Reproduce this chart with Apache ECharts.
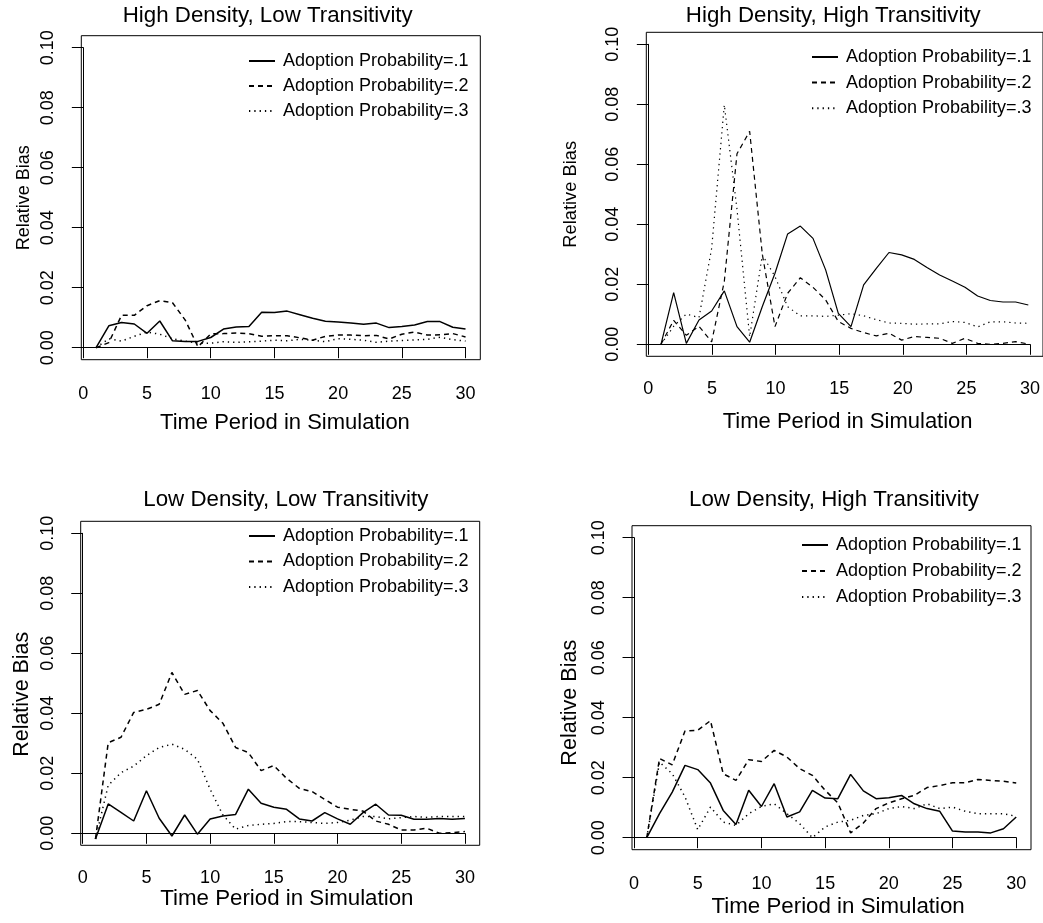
<!DOCTYPE html>
<html>
<head>
<meta charset="utf-8">
<script src="https://cdn.jsdelivr.net/npm/echarts@6/dist/echarts.min.js"></script>
<style>html,body{margin:0;padding:0;background:#fff;}#chart{width:1043px;height:923px;}</style>
</head>
<body>
<div id="chart"></div>
<script>
// ---------- data ----------
const periods = [1,2,3,4,5,6,7,8,9,10,11,12,13,14,15,16,17,18,19,20,21,22,23,24,25,26,27,28,29,30];
const seriesNames = ['Adoption Probability=.1','Adoption Probability=.2','Adoption Probability=.3'];
const panelTitles = ['High Density, Low Transitivity','High Density, High Transitivity','Low Density, Low Transitivity','Low Density, High Transitivity'];
const xAxisTitle = 'Time Period in Simulation';
const yAxisTitle = 'Relative Bias';

// High Density, Low Transitivity
const hdlt_p1 = [0.0000,0.0073,0.0084,0.0079,0.0048,0.0089,0.0023,0.0021,0.0021,0.0034,0.0062,0.0069,0.0071,0.0118,0.0117,0.0122,0.0110,0.0098,0.0088,0.0086,0.0082,0.0078,0.0082,0.0067,0.0071,0.0076,0.0087,0.0087,0.0068,0.0062];
const hdlt_p2 = [0.0000,0.0017,0.0108,0.0108,0.0140,0.0157,0.0150,0.0092,0.0003,0.0046,0.0047,0.0049,0.0047,0.0038,0.0040,0.0040,0.0033,0.0025,0.0038,0.0042,0.0042,0.0040,0.0041,0.0029,0.0045,0.0052,0.0042,0.0043,0.0047,0.0036];
const hdlt_p3 = [0.0000,0.0030,0.0022,0.0038,0.0052,0.0045,0.0030,0.0022,0.0015,0.0015,0.0020,0.0018,0.0020,0.0022,0.0025,0.0023,0.0028,0.0025,0.0020,0.0030,0.0028,0.0025,0.0018,0.0022,0.0024,0.0026,0.0028,0.0035,0.0027,0.0022];
// High Density, High Transitivity
const hdht_p1 = [0.0000,0.0172,0.0003,0.0081,0.0111,0.0178,0.0059,0.0007,0.0126,0.0237,0.0368,0.0394,0.0353,0.0248,0.0103,0.0059,0.0198,0.0253,0.0306,0.0298,0.0283,0.0256,0.0231,0.0211,0.0190,0.0161,0.0146,0.0141,0.0141,0.0131];
const hdht_p2 = [0.0000,0.0080,0.0030,0.0060,0.0008,0.0210,0.0635,0.0710,0.0300,0.0059,0.0170,0.0222,0.0190,0.0148,0.0076,0.0053,0.0039,0.0028,0.0037,0.0014,0.0026,0.0023,0.0020,0.0003,0.0020,0.0003,0.0000,0.0003,0.0009,0.0001];
const hdht_p3 = [0.0000,0.0060,0.0101,0.0089,0.0320,0.0798,0.0450,0.0025,0.0298,0.0226,0.0125,0.0095,0.0095,0.0093,0.0097,0.0102,0.0095,0.0082,0.0071,0.0070,0.0067,0.0068,0.0068,0.0076,0.0073,0.0058,0.0075,0.0075,0.0071,0.0070];
// Low Density, Low Transitivity
const ldlt_p1 = [-0.0019,0.0098,0.0070,0.0041,0.0142,0.0050,-0.0009,0.0061,-0.0003,0.0048,0.0058,0.0063,0.0147,0.0100,0.0087,0.0080,0.0048,0.0041,0.0069,0.0048,0.0030,0.0069,0.0097,0.0061,0.0060,0.0047,0.0047,0.0049,0.0047,0.0049];
const ldlt_p2 = [-0.0019,0.0302,0.0320,0.0403,0.0413,0.0430,0.0536,0.0463,0.0476,0.0409,0.0367,0.0286,0.0269,0.0209,0.0226,0.0183,0.0150,0.0139,0.0113,0.0087,0.0080,0.0074,0.0041,0.0030,0.0011,0.0011,0.0017,0.0000,0.0002,0.0006];
const ldlt_p3 = [-0.0019,0.0160,0.0202,0.0224,0.0259,0.0286,0.0297,0.0280,0.0247,0.0147,0.0061,0.0014,0.0026,0.0030,0.0033,0.0039,0.0039,0.0036,0.0033,0.0036,0.0044,0.0056,0.0056,0.0048,0.0052,0.0056,0.0053,0.0056,0.0056,0.0056];
// Low Density, High Transitivity
const ldht_p1 = [0.0000,0.0080,0.0152,0.0241,0.0227,0.0182,0.0091,0.0044,0.0158,0.0104,0.0180,0.0069,0.0086,0.0158,0.0132,0.0130,0.0211,0.0156,0.0130,0.0133,0.0141,0.0113,0.0097,0.0088,0.0022,0.0019,0.0019,0.0016,0.0030,0.0069];
const ldht_p2 = [0.0000,0.0264,0.0243,0.0356,0.0358,0.0390,0.0213,0.0191,0.0260,0.0254,0.0291,0.0269,0.0230,0.0208,0.0158,0.0116,0.0016,0.0049,0.0097,0.0116,0.0130,0.0141,0.0167,0.0174,0.0183,0.0183,0.0194,0.0191,0.0188,0.0182];
const ldht_p3 = [0.0000,0.0252,0.0213,0.0136,0.0027,0.0102,0.0052,0.0041,0.0080,0.0104,0.0113,0.0080,0.0047,0.0000,0.0036,0.0052,0.0058,0.0074,0.0080,0.0097,0.0104,0.0097,0.0113,0.0097,0.0102,0.0088,0.0080,0.0080,0.0080,0.0071];

const panelData = [
  [hdlt_p1, hdlt_p2, hdlt_p3],
  [hdht_p1, hdht_p2, hdht_p3],
  [ldlt_p1, ldlt_p2, ldlt_p3],
  [ldht_p1, ldht_p2, ldht_p3]
];

// axis ticks
const xTickMin = 0, xTickMax = 30, xTickStep = 5;
const yTickMin = 0, yTickMax = 0.1, yTickStep = 0.02;

// ---------- layout ----------
const FONT = '"Liberation Sans", Arial, Helvetica, sans-serif';
const BOX_W = 399, BOX_H = 324;
const layout = [
  {L: 81.3,  T: 35.7,  tx: 267.7, ty: 5,   xMargin: 25, xGap: 52,   xNameSize: 22,   xShift: 21, yGap: 48.5, yNameSize: 18,   yShift: 0,  lgL: 248, lgT: 52,  lgGap: 7,   lw: 1.5},
  {L: 646.3, T: 32.3,  tx: 833.3, ty: 5,   xMargin: 24, xGap: 54.5, xNameSize: 22,   xShift: 17, yGap: 66,   yNameSize: 18.3, yShift: 0,  lgL: 811, lgT: 48,  lgGap: 7.6, lw: 1.2},
  {L: 80.7,  T: 521.3, tx: 285.8, ty: 489, xMargin: 24, xGap: 42.5, xNameSize: 22.3, xShift: 26, yGap: 48.3, yNameSize: 21.4, yShift: 22, lgL: 248, lgT: 527, lgGap: 7.5, lw: 1.5},
  {L: 632,   T: 525.7, tx: 834,   ty: 489, xMargin: 25, xGap: 46,   xNameSize: 22.3, xShift: 26, yGap: 51.3, yNameSize: 21.6, yShift: 30, lgL: 801, lgT: 536, lgGap: 8,   lw: 1.5}
];
const dashTypes = ['solid', [5, 4], [1.3, 4]];

// R-style padded range (4% each side)
const xPad = (periods[periods.length-1] - periods[0]) * 0.04;
const xMin = periods[0] - xPad, xMax = periods[periods.length-1] + xPad;
const yPad = (yTickMax - yTickMin) * 0.04;
const yMin = yTickMin - yPad, yMax = yTickMax + yPad;

const grids = [], xAxes = [], yAxes = [], series = [], titles = [], legends = [];
layout.forEach((p, i) => {
  const sx = BOX_W / (xMax - xMin), sy = BOX_H / (yMax - yMin);
  const offL = (xTickMin - xMin) * sx, offB = (yTickMin - yMin) * sy;
  const innerW = (xTickMax - xTickMin) * sx, innerH = (yTickMax - yTickMin) * sy;
  grids.push({left: p.L, top: p.T, width: BOX_W, height: BOX_H, show: true, borderColor: '#000', borderWidth: 1, backgroundColor: 'transparent'});
  grids.push({left: p.L + offL, top: p.T + (yMax - yTickMax) * sy, width: innerW, height: innerH, show: false});
  xAxes.push({gridIndex: 2*i, type: 'value', min: xMin, max: xMax, show: false});
  xAxes.push({gridIndex: 2*i+1, type: 'value', min: xTickMin, max: xTickMax, interval: xTickStep, position: 'bottom', offset: offB,
    axisLine: {show: true, lineStyle: {color: '#000', width: 1}},
    axisTick: {show: true, inside: false, length: 10.5, lineStyle: {color: '#000', width: 1}},
    axisLabel: {show: true, fontSize: 18, color: '#000', fontFamily: FONT, margin: p.xMargin},
    splitLine: {show: false},
    name: xAxisTitle, nameLocation: 'middle', nameGap: p.xGap, nameMoveOverlap: false,
    nameTextStyle: {fontSize: p.xNameSize, color: '#000', fontFamily: FONT, padding: [0, 0, 0, p.xShift]}});
  yAxes.push({gridIndex: 2*i, type: 'value', min: yMin, max: yMax, show: false});
  yAxes.push({gridIndex: 2*i+1, type: 'value', min: yTickMin, max: yTickMax, interval: yTickStep, position: 'left', offset: offL,
    axisLine: {show: true, lineStyle: {color: '#000', width: 1}},
    axisTick: {show: true, inside: false, length: 11.5, lineStyle: {color: '#000', width: 1}},
    axisLabel: {show: true, fontSize: 18, color: '#000', fontFamily: FONT, rotate: 90, margin: 24,
      formatter: v => v.toFixed(2)},
    splitLine: {show: false},
    name: yAxisTitle, nameLocation: 'middle', nameGap: p.yGap, nameRotate: 90, nameMoveOverlap: false,
    nameTextStyle: {fontSize: p.yNameSize, color: '#000', fontFamily: FONT, padding: [0, p.yShift, 0, 0]}});
  panelData[i].forEach((vals, k) => {
    series.push({
      type: 'line', name: seriesNames[k], xAxisIndex: 2*i, yAxisIndex: 2*i,
      data: periods.map((t, j) => [t, vals[j]]),
      symbol: 'none', smooth: false, animation: false, silent: true,
      lineStyle: {color: '#000', width: p.lw, type: dashTypes[k], cap: 'butt'},
      itemStyle: {color: '#000'}
    });
  });
  titles.push({text: panelTitles[i], left: p.tx, top: p.ty, textAlign: 'center', padding: 0,
    textStyle: {fontSize: 22.3, fontWeight: 'normal', color: '#000', fontFamily: FONT}});
  legends.push({data: seriesNames, orient: 'vertical', left: p.lgL, top: p.lgT, padding: 0,
    itemWidth: 26, itemHeight: 14, itemGap: p.lgGap, selectedMode: false,
    itemStyle: {opacity: 0, borderWidth: 0},
    textStyle: {fontSize: 18, color: '#000', fontFamily: FONT, padding: [0, 0, 0, 3]}});
});

const chart = echarts.init(document.getElementById('chart'), null, {renderer: 'canvas'});
chart.setOption({
  animation: false,
  backgroundColor: '#fff',
  title: titles,
  legend: legends,
  grid: grids,
  xAxis: xAxes,
  yAxis: yAxes,
  series: series
});
</script>
</body>
</html>
